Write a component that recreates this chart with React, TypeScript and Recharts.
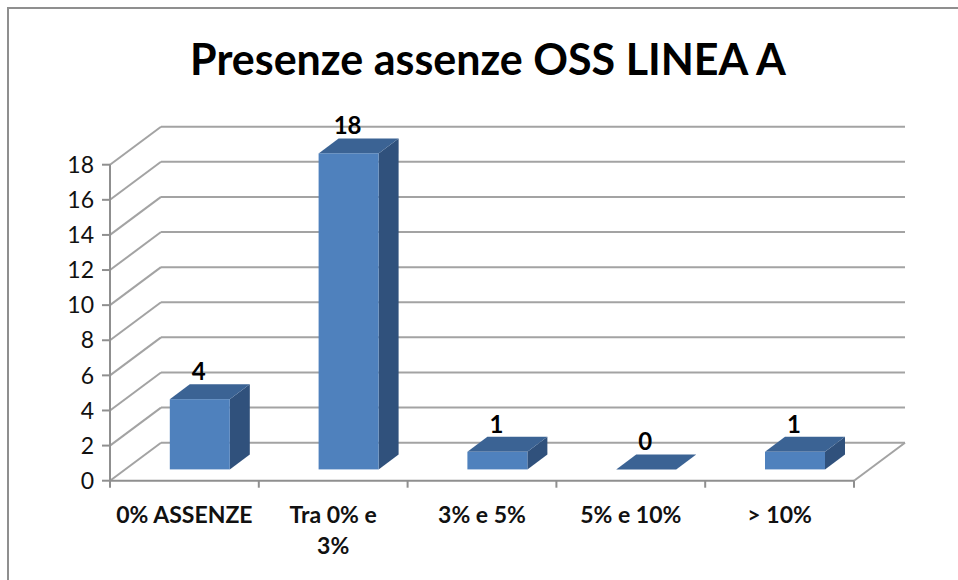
import { BarChart, Bar, XAxis, YAxis, CartesianGrid, LabelList } from "recharts";

const CATEGORIES = ["0% ASSENZE", "Tra 0% e\n3%", "3% e 5%", "5% e 10%", "> 10%"];
const VALUES = [4, 18, 1, 0, 1];
const Y_TICKS = [0, 2, 4, 6, 8, 10, 12, 14, 16, 18];

const DATA = CATEGORIES.map((name, i) => ({ name, value: VALUES[i] }));

const FONT = "Lato, sans-serif";
const AXIS = "#8f8f8f";
const GRID = "#a3a3a3";

// fake perspective
const WALL_DX = 51;
const WALL_DY = -38;
const BAR_DX = 15.8;
const BAR_DY = -11.3;
const SIDE_DX = 20;
const SIDE_DY = -15;
const BAND = 148.8;

function Bar3D({ x, y, width, height }: any) {
  const l = x + BAR_DX;
  const r = l + width;
  const t = y + BAR_DY;
  const b = t + height;
  return (
    <g>
      <polygon
        points={`${r},${t} ${r + SIDE_DX},${t + SIDE_DY} ${r + SIDE_DX},${b + SIDE_DY} ${r},${b}`}
        fill="#30517c"
      />
      <polygon
        points={`${l},${t} ${l + SIDE_DX},${t + SIDE_DY} ${r + SIDE_DX},${t + SIDE_DY} ${r},${t}`}
        fill="#3b6394"
      />
      <rect x={l} y={t} width={width} height={height} fill="#4f81bd" />
    </g>
  );
}

function WallLine({ x1, y1, x2, index }: any) {
  return (
    <g key={index} stroke={GRID} strokeWidth={2} fill="none">
      <line x1={x1} y1={y1} x2={x1 + WALL_DX} y2={y1 + WALL_DY} />
      <line x1={x1 + WALL_DX} y1={y1 + WALL_DY} x2={x2 + WALL_DX} y2={y1 + WALL_DY} />
      {y1 > 480 && <line x1={x2} y1={y1} x2={x2 + WALL_DX} y2={y1 + WALL_DY} />}
    </g>
  );
}

function CategoryTick({ x, y, payload, index }: any) {
  const lines = String(payload.value).split("\n");
  return (
    <g>
      <line x1={x - BAND / 2} y1={y - 8} x2={x - BAND / 2} y2={y - 1} stroke={AXIS} strokeWidth={2} />
      {index === CATEGORIES.length - 1 && (
        <line x1={x + BAND / 2} y1={y - 8} x2={x + BAND / 2} y2={y - 1} stroke={AXIS} strokeWidth={2} />
      )}
      {lines.map((line: string, i: number) => (
        <text
          key={i}
          x={x}
          y={y + 34 + i * 31}
          textAnchor="middle"
          fontFamily={FONT}
          fontWeight={700}
          fontSize={23}
          fill="#111"
        >
          {line}
        </text>
      ))}
    </g>
  );
}

function ValueLabel({ x, y, width, value }: any) {
  return (
    <text
      x={x + BAR_DX + width / 2 - 1}
      y={y + BAR_DY - 19}
      textAnchor="middle"
      fontFamily={FONT}
      fontWeight={700}
      fontSize={24}
      fill="#000"
    >
      {value}
    </text>
  );
}

export default function App() {
  return (
    <div style={{ position: "absolute", left: 0, top: 0, width: 958, height: 580, background: "#fff", overflow: "hidden" }}>
      <div
        style={{
          position: "absolute",
          left: 7,
          top: 7,
          width: 951,
          height: 573,
          borderLeft: `2px solid ${AXIS}`,
          borderTop: `2px solid ${AXIS}`,
        }}
      />
      <BarChart
        width={958}
        height={580}
        data={DATA}
        margin={{ top: 164.7, right: 104, left: 0, bottom: 0 }}
        style={{ position: "absolute", left: 0, top: 0 }}
      >
        <text
          x={488}
          y={75}
          textAnchor="middle"
          fontFamily={FONT}
          fontWeight={700}
          fontSize={43}
          fill="#000"
        >
          Presenze assenze OSS LINEA A
        </text>
        <CartesianGrid vertical={false} horizontal={WallLine} />
        <XAxis
          dataKey="name"
          interval={0}
          height={99.3}
          axisLine={{ stroke: AXIS, strokeWidth: 2 }}
          tickLine={false}
          tick={CategoryTick}
        />
        <YAxis
          domain={[0, 18]}
          ticks={Y_TICKS}
          interval={0}
          width={110}
          axisLine={{ stroke: AXIS, strokeWidth: 2 }}
          tickLine={{ stroke: AXIS, strokeWidth: 2 }}
          tickSize={8}
          tickMargin={8}
          tick={{ fill: "#111", fontSize: 23, fontFamily: FONT }}
        />
        <Bar dataKey="value" barSize={60} shape={Bar3D} isAnimationActive={false}>
          <LabelList dataKey="value" content={ValueLabel} />
        </Bar>
      </BarChart>
    </div>
  );
}
